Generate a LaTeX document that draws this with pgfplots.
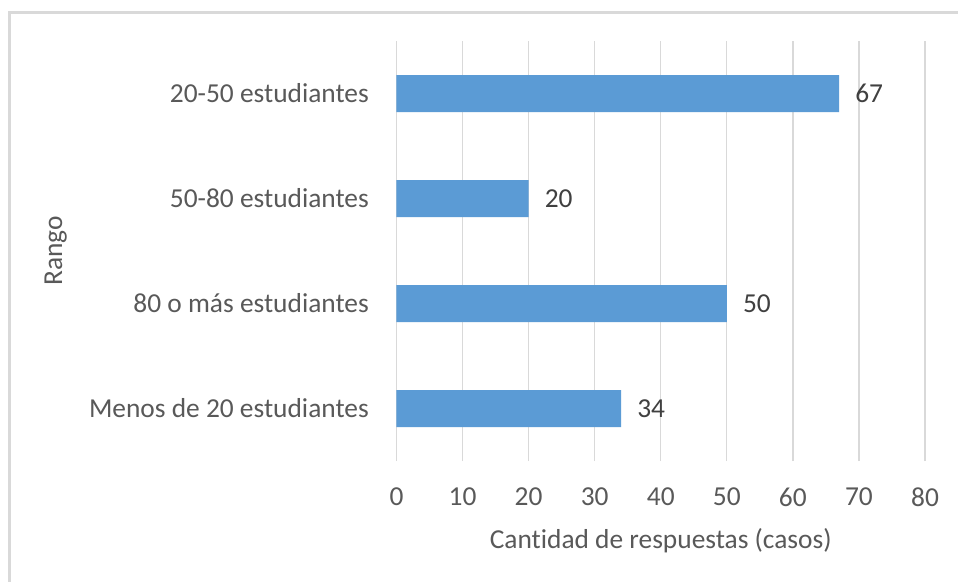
\documentclass[border=0pt]{standalone}
\usepackage{pgfplots}
\pgfplotsset{compat=1.18}
\usepackage{fontspec}
\setmainfont{Carlito}[Ligatures=NoCommon]
\definecolor{barc}{HTML}{5B9BD5}
\definecolor{gridc}{HTML}{D9D9D9}
\definecolor{txt}{HTML}{595959}
\definecolor{lbl}{HTML}{404040}
\begin{document}
\begin{tikzpicture}
\fill[white] (-396.5bp,-121bp) rectangle (561.5bp,461bp);
\useasboundingbox (-396.5bp,-121bp) rectangle (561.5bp,461bp);
\draw[gridc, line width=2.5bp] (-387bp,-140bp) -- (-387bp,448.5bp) -- (580bp,448.5bp);
\begin{axis}[
  at={(0bp,0bp)}, anchor=south west, scale only axis,
  width=528.5bp, height=420bp,
  xbar, bar width=37bp,
  xmin=0, xmax=80, ymin=-0.5, ymax=3.5,
  xtick={0,10,...,80},
  ytick={0,1,2,3},
  yticklabels={Menos de 20 estudiantes, 80 o más estudiantes, 50-80 estudiantes, 20-50 estudiantes},
  xmajorgrids, grid style={gridc, line width=1.3bp},
  axis line style={draw=none},
  major tick length=0pt,
  /pgf/number format/assume math mode=true,
  tick label style={font=\fontsize{27.5}{33}\selectfont, text=txt},
  xticklabel style={anchor=center, inner sep=0pt, yshift=-36bp},
  yticklabel style={anchor=east, inner sep=0pt, xshift=-27.5bp},
  xlabel={Cantidad de respuestas (casos)},
  ylabel={Rango},
  every axis x label/.style={at={(axis description cs:0.5,-0.19)}, anchor=center, font=\fontsize{27.5}{33}\selectfont, text=txt},
  every axis y label/.style={at={(axis description cs:-0.645,0.5)}, rotate=90, anchor=center, font=\fontsize{27.5}{33}\selectfont, text=txt},
  nodes near coords,
  every node near coord/.append style={anchor=west, inner sep=0pt, xshift=16bp, text=lbl, font=\fontsize{27.5}{33}\selectfont},
]
\addplot[fill=barc, draw=none] coordinates {(34,0) (50,1) (20,2) (67,3)};
\end{axis}
\end{tikzpicture}
\end{document}
